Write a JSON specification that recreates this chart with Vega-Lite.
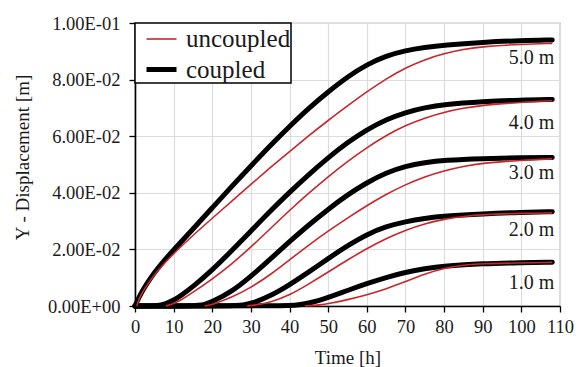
{
  "$schema": "https://vega.github.io/schema/vega-lite/v6.json",
  "autosize": {"type": "none"},
  "padding": {"left": 135, "top": 23, "right": 27, "bottom": 61},
  "width": 425,
  "height": 283,
  "datasets": {
    "curves": [
      {"d":"5.0 m","type":"coupled","t":0,"v":0},{"d":"5.0 m","type":"coupled","t":1,"v":0.003},{"d":"5.0 m","type":"coupled","t":2,"v":0.0055},{"d":"5.0 m","type":"coupled","t":3,"v":0.0078},{"d":"5.0 m","type":"coupled","t":5,"v":0.0118},{"d":"5.0 m","type":"coupled","t":7.5,"v":0.016},{"d":"5.0 m","type":"coupled","t":10,"v":0.0198},{"d":"5.0 m","type":"coupled","t":15,"v":0.0272},{"d":"5.0 m","type":"coupled","t":20,"v":0.0347},{"d":"5.0 m","type":"coupled","t":25,"v":0.0422},{"d":"5.0 m","type":"coupled","t":30,"v":0.0495},{"d":"5.0 m","type":"coupled","t":35,"v":0.0567},{"d":"5.0 m","type":"coupled","t":40,"v":0.0635},{"d":"5.0 m","type":"coupled","t":45,"v":0.07},{"d":"5.0 m","type":"coupled","t":50,"v":0.0757},{"d":"5.0 m","type":"coupled","t":55,"v":0.081},{"d":"5.0 m","type":"coupled","t":60,"v":0.0853},{"d":"5.0 m","type":"coupled","t":65,"v":0.0884},{"d":"5.0 m","type":"coupled","t":70,"v":0.0903},{"d":"5.0 m","type":"coupled","t":75,"v":0.0914},{"d":"5.0 m","type":"coupled","t":80,"v":0.0922},{"d":"5.0 m","type":"coupled","t":90,"v":0.0932},{"d":"5.0 m","type":"coupled","t":100,"v":0.0938},{"d":"5.0 m","type":"coupled","t":108,"v":0.094},
      {"d":"5.0 m","type":"uncoupled","t":0.5,"v":0},{"d":"5.0 m","type":"uncoupled","t":1,"v":0.0025},{"d":"5.0 m","type":"uncoupled","t":2,"v":0.005},{"d":"5.0 m","type":"uncoupled","t":3,"v":0.0072},{"d":"5.0 m","type":"uncoupled","t":5,"v":0.011},{"d":"5.0 m","type":"uncoupled","t":7.5,"v":0.015},{"d":"5.0 m","type":"uncoupled","t":10,"v":0.0185},{"d":"5.0 m","type":"uncoupled","t":15,"v":0.025},{"d":"5.0 m","type":"uncoupled","t":20,"v":0.031},{"d":"5.0 m","type":"uncoupled","t":25,"v":0.037},{"d":"5.0 m","type":"uncoupled","t":30,"v":0.043},{"d":"5.0 m","type":"uncoupled","t":35,"v":0.0489},{"d":"5.0 m","type":"uncoupled","t":40,"v":0.0546},{"d":"5.0 m","type":"uncoupled","t":45,"v":0.0602},{"d":"5.0 m","type":"uncoupled","t":50,"v":0.0656},{"d":"5.0 m","type":"uncoupled","t":55,"v":0.0707},{"d":"5.0 m","type":"uncoupled","t":60,"v":0.0757},{"d":"5.0 m","type":"uncoupled","t":65,"v":0.0803},{"d":"5.0 m","type":"uncoupled","t":70,"v":0.0842},{"d":"5.0 m","type":"uncoupled","t":75,"v":0.0871},{"d":"5.0 m","type":"uncoupled","t":80,"v":0.0892},{"d":"5.0 m","type":"uncoupled","t":85,"v":0.0907},{"d":"5.0 m","type":"uncoupled","t":90,"v":0.0917},{"d":"5.0 m","type":"uncoupled","t":100,"v":0.0925},{"d":"5.0 m","type":"uncoupled","t":108,"v":0.0928},
      {"d":"4.0 m","type":"coupled","t":0,"v":0},{"d":"4.0 m","type":"coupled","t":6,"v":0},{"d":"4.0 m","type":"coupled","t":8,"v":0.0008},{"d":"4.0 m","type":"coupled","t":10,"v":0.002},{"d":"4.0 m","type":"coupled","t":12,"v":0.0038},{"d":"4.0 m","type":"coupled","t":15,"v":0.0068},{"d":"4.0 m","type":"coupled","t":20,"v":0.0127},{"d":"4.0 m","type":"coupled","t":25,"v":0.0195},{"d":"4.0 m","type":"coupled","t":30,"v":0.0265},{"d":"4.0 m","type":"coupled","t":35,"v":0.0335},{"d":"4.0 m","type":"coupled","t":40,"v":0.0402},{"d":"4.0 m","type":"coupled","t":45,"v":0.0465},{"d":"4.0 m","type":"coupled","t":50,"v":0.0524},{"d":"4.0 m","type":"coupled","t":55,"v":0.0578},{"d":"4.0 m","type":"coupled","t":60,"v":0.0623},{"d":"4.0 m","type":"coupled","t":65,"v":0.0659},{"d":"4.0 m","type":"coupled","t":70,"v":0.0684},{"d":"4.0 m","type":"coupled","t":75,"v":0.0701},{"d":"4.0 m","type":"coupled","t":80,"v":0.0712},{"d":"4.0 m","type":"coupled","t":90,"v":0.0722},{"d":"4.0 m","type":"coupled","t":100,"v":0.0728},{"d":"4.0 m","type":"coupled","t":108,"v":0.073},
      {"d":"4.0 m","type":"uncoupled","t":8,"v":0},{"d":"4.0 m","type":"uncoupled","t":10,"v":0.0008},{"d":"4.0 m","type":"uncoupled","t":12,"v":0.0022},{"d":"4.0 m","type":"uncoupled","t":15,"v":0.0048},{"d":"4.0 m","type":"uncoupled","t":20,"v":0.0095},{"d":"4.0 m","type":"uncoupled","t":25,"v":0.0148},{"d":"4.0 m","type":"uncoupled","t":30,"v":0.0208},{"d":"4.0 m","type":"uncoupled","t":35,"v":0.0273},{"d":"4.0 m","type":"uncoupled","t":40,"v":0.0338},{"d":"4.0 m","type":"uncoupled","t":45,"v":0.0399},{"d":"4.0 m","type":"uncoupled","t":50,"v":0.0457},{"d":"4.0 m","type":"uncoupled","t":55,"v":0.0511},{"d":"4.0 m","type":"uncoupled","t":60,"v":0.056},{"d":"4.0 m","type":"uncoupled","t":65,"v":0.0603},{"d":"4.0 m","type":"uncoupled","t":70,"v":0.0638},{"d":"4.0 m","type":"uncoupled","t":75,"v":0.0665},{"d":"4.0 m","type":"uncoupled","t":80,"v":0.0685},{"d":"4.0 m","type":"uncoupled","t":85,"v":0.0699},{"d":"4.0 m","type":"uncoupled","t":90,"v":0.071},{"d":"4.0 m","type":"uncoupled","t":100,"v":0.072},{"d":"4.0 m","type":"uncoupled","t":108,"v":0.0725},
      {"d":"3.0 m","type":"coupled","t":0,"v":0},{"d":"3.0 m","type":"coupled","t":16,"v":0},{"d":"3.0 m","type":"coupled","t":18,"v":0.0005},{"d":"3.0 m","type":"coupled","t":20,"v":0.0015},{"d":"3.0 m","type":"coupled","t":25,"v":0.005},{"d":"3.0 m","type":"coupled","t":30,"v":0.0105},{"d":"3.0 m","type":"coupled","t":35,"v":0.0165},{"d":"3.0 m","type":"coupled","t":40,"v":0.0228},{"d":"3.0 m","type":"coupled","t":45,"v":0.0287},{"d":"3.0 m","type":"coupled","t":50,"v":0.0342},{"d":"3.0 m","type":"coupled","t":55,"v":0.0393},{"d":"3.0 m","type":"coupled","t":60,"v":0.0436},{"d":"3.0 m","type":"coupled","t":65,"v":0.0471},{"d":"3.0 m","type":"coupled","t":70,"v":0.0494},{"d":"3.0 m","type":"coupled","t":75,"v":0.0507},{"d":"3.0 m","type":"coupled","t":80,"v":0.0515},{"d":"3.0 m","type":"coupled","t":90,"v":0.0521},{"d":"3.0 m","type":"coupled","t":100,"v":0.0524},{"d":"3.0 m","type":"coupled","t":108,"v":0.0525},
      {"d":"3.0 m","type":"uncoupled","t":18,"v":0},{"d":"3.0 m","type":"uncoupled","t":20,"v":0.0005},{"d":"3.0 m","type":"uncoupled","t":25,"v":0.003},{"d":"3.0 m","type":"uncoupled","t":30,"v":0.0065},{"d":"3.0 m","type":"uncoupled","t":35,"v":0.011},{"d":"3.0 m","type":"uncoupled","t":40,"v":0.0163},{"d":"3.0 m","type":"uncoupled","t":45,"v":0.0216},{"d":"3.0 m","type":"uncoupled","t":50,"v":0.0265},{"d":"3.0 m","type":"uncoupled","t":55,"v":0.0311},{"d":"3.0 m","type":"uncoupled","t":60,"v":0.0355},{"d":"3.0 m","type":"uncoupled","t":65,"v":0.0395},{"d":"3.0 m","type":"uncoupled","t":70,"v":0.0429},{"d":"3.0 m","type":"uncoupled","t":75,"v":0.0457},{"d":"3.0 m","type":"uncoupled","t":80,"v":0.0478},{"d":"3.0 m","type":"uncoupled","t":85,"v":0.0494},{"d":"3.0 m","type":"uncoupled","t":90,"v":0.0505},{"d":"3.0 m","type":"uncoupled","t":100,"v":0.0515},{"d":"3.0 m","type":"uncoupled","t":108,"v":0.052},
      {"d":"2.0 m","type":"coupled","t":0,"v":0},{"d":"2.0 m","type":"coupled","t":26,"v":0},{"d":"2.0 m","type":"coupled","t":28,"v":0.0003},{"d":"2.0 m","type":"coupled","t":30,"v":0.0008},{"d":"2.0 m","type":"coupled","t":35,"v":0.0035},{"d":"2.0 m","type":"coupled","t":40,"v":0.0075},{"d":"2.0 m","type":"coupled","t":45,"v":0.012},{"d":"2.0 m","type":"coupled","t":50,"v":0.0168},{"d":"2.0 m","type":"coupled","t":55,"v":0.0213},{"d":"2.0 m","type":"coupled","t":60,"v":0.0253},{"d":"2.0 m","type":"coupled","t":65,"v":0.0281},{"d":"2.0 m","type":"coupled","t":70,"v":0.0298},{"d":"2.0 m","type":"coupled","t":75,"v":0.031},{"d":"2.0 m","type":"coupled","t":80,"v":0.0318},{"d":"2.0 m","type":"coupled","t":90,"v":0.0326},{"d":"2.0 m","type":"coupled","t":100,"v":0.0331},{"d":"2.0 m","type":"coupled","t":108,"v":0.0333},
      {"d":"2.0 m","type":"uncoupled","t":29,"v":0},{"d":"2.0 m","type":"uncoupled","t":31,"v":0.0003},{"d":"2.0 m","type":"uncoupled","t":35,"v":0.0012},{"d":"2.0 m","type":"uncoupled","t":40,"v":0.0038},{"d":"2.0 m","type":"uncoupled","t":45,"v":0.0078},{"d":"2.0 m","type":"uncoupled","t":50,"v":0.012},{"d":"2.0 m","type":"uncoupled","t":55,"v":0.0163},{"d":"2.0 m","type":"uncoupled","t":60,"v":0.0203},{"d":"2.0 m","type":"uncoupled","t":65,"v":0.0239},{"d":"2.0 m","type":"uncoupled","t":70,"v":0.0268},{"d":"2.0 m","type":"uncoupled","t":75,"v":0.0291},{"d":"2.0 m","type":"uncoupled","t":80,"v":0.0307},{"d":"2.0 m","type":"uncoupled","t":85,"v":0.0317},{"d":"2.0 m","type":"uncoupled","t":90,"v":0.0323},{"d":"2.0 m","type":"uncoupled","t":100,"v":0.0328},{"d":"2.0 m","type":"uncoupled","t":108,"v":0.0329},
      {"d":"1.0 m","type":"coupled","t":0,"v":0},{"d":"1.0 m","type":"coupled","t":38,"v":0},{"d":"1.0 m","type":"coupled","t":42,"v":0.0003},{"d":"1.0 m","type":"coupled","t":45,"v":0.0009},{"d":"1.0 m","type":"coupled","t":50,"v":0.003},{"d":"1.0 m","type":"coupled","t":55,"v":0.0055},{"d":"1.0 m","type":"coupled","t":60,"v":0.0079},{"d":"1.0 m","type":"coupled","t":65,"v":0.0101},{"d":"1.0 m","type":"coupled","t":70,"v":0.0119},{"d":"1.0 m","type":"coupled","t":75,"v":0.0132},{"d":"1.0 m","type":"coupled","t":80,"v":0.0141},{"d":"1.0 m","type":"coupled","t":90,"v":0.015},{"d":"1.0 m","type":"coupled","t":100,"v":0.0153},{"d":"1.0 m","type":"coupled","t":108,"v":0.0155},
      {"d":"1.0 m","type":"uncoupled","t":44,"v":0},{"d":"1.0 m","type":"uncoupled","t":48,"v":0.0004},{"d":"1.0 m","type":"uncoupled","t":50,"v":0.0008},{"d":"1.0 m","type":"uncoupled","t":55,"v":0.0022},{"d":"1.0 m","type":"uncoupled","t":60,"v":0.0039},{"d":"1.0 m","type":"uncoupled","t":65,"v":0.006},{"d":"1.0 m","type":"uncoupled","t":70,"v":0.0086},{"d":"1.0 m","type":"uncoupled","t":75,"v":0.0113},{"d":"1.0 m","type":"uncoupled","t":80,"v":0.0134},{"d":"1.0 m","type":"uncoupled","t":85,"v":0.0145},{"d":"1.0 m","type":"uncoupled","t":90,"v":0.015},{"d":"1.0 m","type":"uncoupled","t":100,"v":0.0152},{"d":"1.0 m","type":"uncoupled","t":108,"v":0.0154}
    ],
    "labels": [
      {"d":"5.0 m","t":108.5,"v":0.0876},
      {"d":"4.0 m","t":108.5,"v":0.0647},
      {"d":"3.0 m","t":108.5,"v":0.047},
      {"d":"2.0 m","t":108.5,"v":0.0269},
      {"d":"1.0 m","t":108.5,"v":0.0081}
    ]
  },
  "encoding": {
    "x": {"field": "t", "type": "quantitative", "scale": {"domain": [0, 110], "nice": false},
      "axis": {"title": "Time [h]", "values": [0,10,20,30,40,50,60,70,80,90,100,110], "tickSize": 6, "labelPadding": 5, "titleY": 51, "titleBaseline": "middle"}},
    "y": {"field": "v", "type": "quantitative", "scale": {"domain": [0, 0.1], "nice": false},
      "axis": {"title": "Y - Displacement [m]", "values": [0,0.02,0.04,0.06,0.08,0.1], "tickSize": 6, "labelPadding": 9,
        "labelExpr": "datum.value == 0 ? '0.00E+00' : upper(replace(format(datum.value, '.2e'), 'e-', 'e-0'))",
        "titleX": -113, "titleY": 134, "titleBaseline": "middle", "titleAlign": "center", "titleAngle": -90}}
  },
  "layer": [
    {
      "data": {"name": "curves"},
      "transform": [{"filter": "datum.type == 'coupled'"}],
      "mark": {"type": "line", "interpolate": "basis", "strokeCap": "round"},
      "encoding": {
        "detail": {"field": "d"},
        "color": {"field": "type", "type": "nominal", "scale": {"domain": ["uncoupled", "coupled"], "range": ["#c8262b", "#000000"]},
          "legend": {"title": null, "orient": "top-left", "offset": 0}},
        "strokeWidth": {"field": "type", "type": "nominal", "scale": {"domain": ["uncoupled", "coupled"], "range": [1.6, 5]},
          "legend": {"title": null, "orient": "top-left", "offset": 0}}
      }
    },
    {
      "data": {"name": "curves"},
      "transform": [{"filter": "datum.type == 'uncoupled'"}],
      "mark": {"type": "line", "interpolate": "basis"},
      "encoding": {
        "detail": {"field": "d"},
        "color": {"field": "type", "type": "nominal"},
        "strokeWidth": {"field": "type", "type": "nominal"}
      }
    },
    {
      "data": {"name": "labels"},
      "mark": {"type": "text", "align": "right", "baseline": "middle", "font": "Liberation Serif", "fontSize": 20, "color": "#1a1a1a"},
      "encoding": {
        "text": {"field": "d"}
      }
    }
  ],
  "config": {
    "font": "Liberation Serif",
    "view": {"stroke": "#8c8c8c", "strokeWidth": 1.2},
    "axis": {"labelFont": "Liberation Serif", "titleFont": "Liberation Serif", "labelFontSize": 18.5, "titleFontSize": 19, "titleFontWeight": "normal",
      "labelColor": "#1a1a1a", "titleColor": "#1a1a1a", "gridColor": "#dcdcdc", "gridWidth": 1.2, "domainColor": "#000000", "tickColor": "#000000", "domainWidth": 1.6, "tickWidth": 1.3, "labelFlush": false, "labelOverlap": false},
    "legend": {"labelFont": "Liberation Serif", "labelFontSize": 25, "labelColor": "#1a1a1a", "symbolType": "stroke", "symbolSize": 900,
      "strokeColor": "#000000", "strokeWidth": 1.5, "fillColor": "#ffffff", "padding": 0, "rowPadding": -5, "symbolOffset": 9, "labelOffset": 7, "labelLimit": 300}
  }
}
